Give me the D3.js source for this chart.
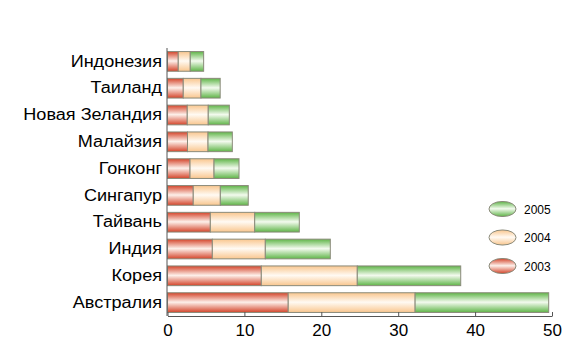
<!DOCTYPE html>
<html><head><meta charset="utf-8">
<script src="https://cdn.jsdelivr.net/npm/d3@7"></script>
<style>body{margin:0;background:#fff}svg{display:block}</style>
</head><body>
<script>
const categories = ["Индонезия","Таиланд","Новая Зеландия","Малайзия","Гонконг","Сингапур","Тайвань","Индия","Корея","Австралия"];
const series = ["2003","2004","2005"];
const v2003 = [1.4, 2.05, 2.57, 2.6, 2.93, 3.35, 5.57, 5.83, 12.2, 15.7];
const v2004 = [1.56, 2.3, 2.73, 2.67, 3.12, 3.52, 5.77, 6.89, 12.48, 16.5];
const v2005 = [1.74, 2.5, 2.74, 3.16, 3.25, 3.63, 5.8, 8.45, 13.45, 17.37];
const xTicks = [0,10,20,30,40,50];

const W=579,H=361;
const svg=d3.select("body").append("svg").attr("width",W).attr("height",H);
const x=d3.scaleLinear().domain([0,50]).range([167.5,552]);
const y=d3.scaleBand().domain(categories).range([48,316]).paddingInner(0.265).paddingOuter(0.1325);

const colors={"2003":["#d4442a","#fdf0ea"],"2004":["#f9c68e","#fffaf3"],"2005":["#5fb548","#f3faee"]};
const defs=svg.append("defs");
series.forEach(s=>{
  const g=defs.append("linearGradient").attr("id","g"+s).attr("x1",0).attr("y1",0).attr("x2",0).attr("y2",1);
  g.append("stop").attr("offset","0%").attr("stop-color",colors[s][0]);
  g.append("stop").attr("offset","48%").attr("stop-color",colors[s][1]);
  g.append("stop").attr("offset","100%").attr("stop-color",colors[s][0]);
});

const data=categories.map((c,i)=>({cat:c,"2003":v2003[i],"2004":v2004[i],"2005":v2005[i]}));
const stack=d3.stack().keys(series)(data);

svg.append("g").selectAll("g").data(stack).join("g")
  .attr("fill",d=>"url(#g"+d.key+")")
  .selectAll("rect").data(d=>d).join("rect")
  .attr("x",d=>x(d[0])).attr("width",d=>x(d[1])-x(d[0]))
  .attr("y",d=>y(d.data.cat)).attr("height",y.bandwidth())
  .attr("stroke","#8a8a7a").attr("stroke-width",1);

// x axis
const xa=svg.append("g").attr("transform","translate(0,316)")
  .call(d3.axisBottom(x).tickValues(xTicks).tickSizeInner(-4).tickSizeOuter(0).tickPadding(8));
xa.select(".domain").attr("stroke","#555");
xa.selectAll(".tick line").attr("stroke","#555");
xa.selectAll("text").attr("font-family","Liberation Sans, Arial, sans-serif").attr("font-size",17).attr("fill","#000");

// y axis
const ya=svg.append("g").attr("transform","translate(167,0)")
  .call(d3.axisLeft(y).tickSize(0).tickPadding(5));
ya.select(".domain").attr("stroke","#555").attr("d","M0,48V316");
ya.selectAll("text").attr("font-family","Liberation Sans, Arial, sans-serif").attr("font-size",16).attr("fill","#000")
  .attr("x",-5/1.13).attr("transform","scale(1.13,1)");

// legend
const leg=["2005","2004","2003"];
const lg=svg.append("g");
leg.forEach((s,i)=>{
  const cy=209+i*28.5;
  lg.append("rect").attr("x",489).attr("y",cy-7.5).attr("width",27).attr("height",15)
    .attr("rx",13).attr("ry",7.5).attr("fill","url(#g"+s+")").attr("stroke","#8a8a7a");
  lg.append("text").attr("x",524).attr("y",cy+4.5).text(s)
    .attr("font-family","Liberation Sans, Arial, sans-serif").attr("font-size",12).attr("fill","#000");
});
</script>
</body></html>
